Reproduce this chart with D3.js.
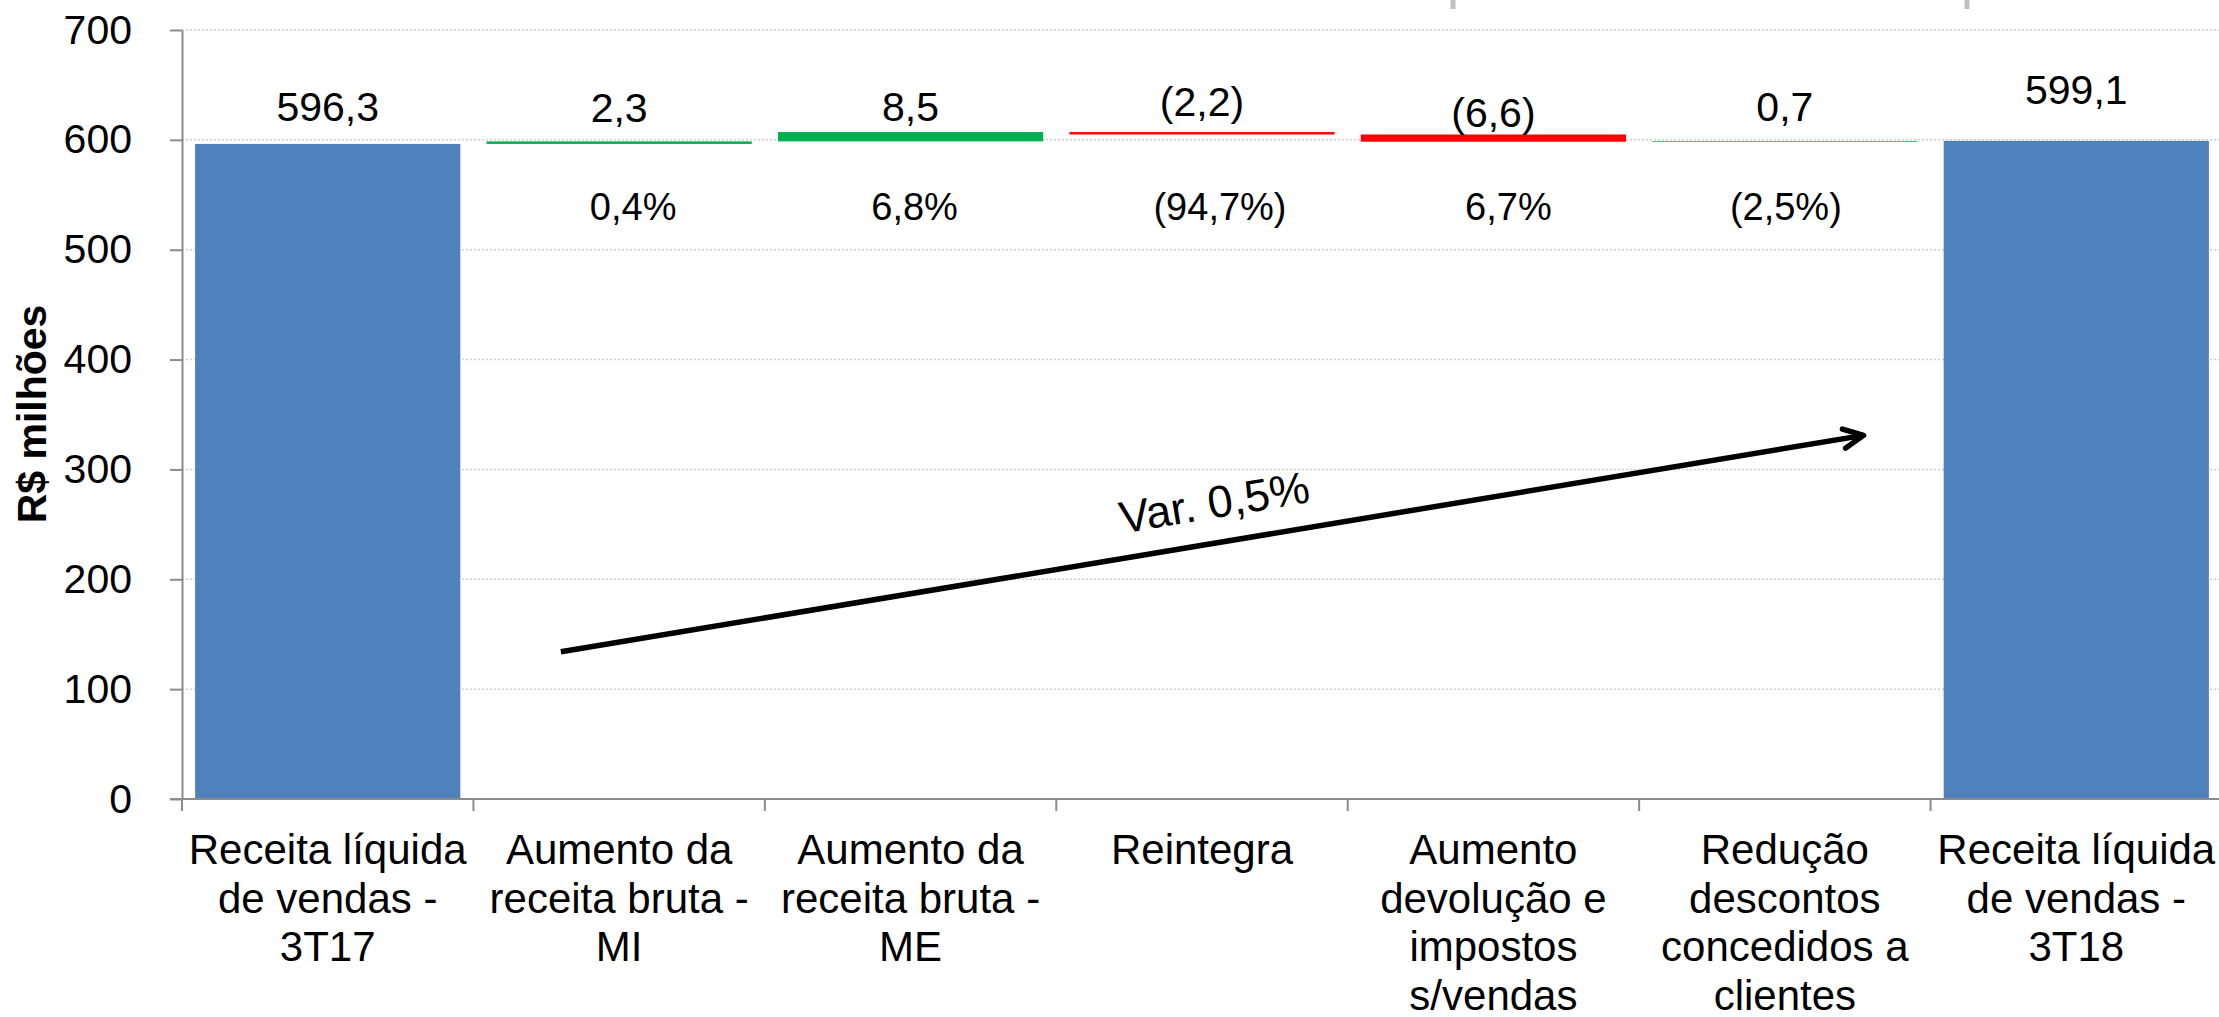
<!DOCTYPE html>
<html lang="pt">
<head>
	<meta charset="utf-8">
	<title>Receita líquida de vendas - 3T17 x 3T18</title>
	<script src="https://d3js.org/d3.v7.min.js" charset="utf-8"></script>
	<style>
		body { margin: 0; background: #ffffff; }
		svg text { font-family: "Liberation Sans", Arial, sans-serif; fill: #000000; }
	</style>
</head>
<body>
<div id="chart"></div>
<script type="text/javascript">

	// ---- data ----
	// category names, line breaks as in the original axis
	var categories = [
		"Receita líquida\nde vendas -\n3T17",
		"Aumento da\nreceita bruta -\nMI",
		"Aumento da\nreceita bruta -\nME",
		"Reintegra",
		"Aumento\ndevolução e\nimpostos\ns/vendas",
		"Redução\ndescontos\nconcedidos a\nclientes",
		"Receita líquida\nde vendas -\n3T18"
	];
	var startTotal = 596.3;
	var endTotal = 599.1;
	var deltas = [2.3, 8.5, -2.2, -6.6, 0.7];
	var deltaPercents = ["0,4%", "6,8%", "(94,7%)", "6,7%", "(2,5%)"];
	var yTicks = [0, 100, 200, 300, 400, 500, 600, 700];
	var yTitle = "R$ milhões";
	var variationLabel = "Var. 0,5%";
	// arrow annotation: [band position, value]
	var arrowFrom = [1.3, 134];
	var arrowTo = [5.77, 331];

	// ---- layout ----
	var width = 2219, height = 1017;
	var fontSize = 41;
	var colTotal = "#4F81BD", colUp = "#00B050", colDown = "#FF0000";
	var axisColor = "#8c8c8c";
	// small nudges of labels
	var labelNudge = [-37, -34, -25, -30, -22, -34, -51];
	var pctNudgeX = [0, 14, 4, 18, 15, 1, 0];
	var pctRowY = 207;

	var svg = d3.select("#chart")
		.append("svg")
		.attr("width", width)
		.attr("height", height);

	var x = d3.scaleBand()
		.domain(categories)
		.range([182, 2222])
		.paddingInner(0.09)
		.paddingOuter(0.045);

	var y = d3.scaleLinear()
		.domain([0, 700])
		.range([799, 30]);

	// build the waterfall rows
	var rows = [];
	rows.push({name: categories[0], lo: 0, hi: startTotal, color: colTotal, label: fmt(startTotal), pct: ""});
	var run = startTotal;
	deltas.forEach(function(d, i){
		var from = run, to = run + d;
		rows.push({
			name: categories[i + 1],
			lo: Math.min(from, to),
			hi: Math.max(from, to),
			color: d >= 0 ? colUp : colDown,
			label: d < 0 ? "(" + fmt(-d) + ")" : fmt(d),
			pct: deltaPercents[i]
		});
		run = to;
	});
	rows.push({name: categories[6], lo: 0, hi: endTotal, color: colTotal, label: fmt(endTotal), pct: ""});

	function fmt(v){ return v.toFixed(1).replace(".", ","); }

	// gridlines
	svg.append("g")
		.selectAll("line")
		.data(yTicks.filter(function(d){ return d > 0; }))
		.enter()
			.append("line")
			.attr("x1", x.range()[0])
			.attr("x2", width)
			.attr("y1", function(d){ return y(d); })
			.attr("y2", function(d){ return y(d); })
			.attr("stroke", "#cfcfcf")
			.attr("stroke-width", 1.5)
			.attr("stroke-dasharray", "2,2");

	// bars
	svg.append("g")
		.selectAll("rect")
		.data(rows)
		.enter()
			.append("rect")
			.attr("x", function(d){ return x(d.name); })
			.attr("width", x.bandwidth())
			.attr("y", function(d){ return y(d.hi); })
			.attr("height", function(d){ return y(d.lo) - y(d.hi); })
			.attr("fill", function(d){ return d.color; });

	// value labels
	svg.append("g")
		.selectAll("text")
		.data(rows)
		.enter()
			.append("text")
			.attr("x", function(d){ return x(d.name) + x.bandwidth() / 2; })
			.attr("y", function(d, i){ return y(d.hi) + labelNudge[i]; })
			.attr("dy", "0.35em")
			.attr("text-anchor", "middle")
			.style("font-size", fontSize + "px")
			.text(function(d){ return d.label; });

	// percentage labels
	svg.append("g")
		.selectAll("text")
		.data(rows)
		.enter()
			.append("text")
			.attr("x", function(d, i){ return x(d.name) + x.bandwidth() / 2 + pctNudgeX[i]; })
			.attr("y", pctRowY)
			.attr("dy", "0.35em")
			.attr("text-anchor", "middle")
			.style("font-size", (fontSize - 3) + "px")
			.text(function(d){ return d.pct; });

	// y axis
	var yAxis = d3.axisLeft(y)
		.tickValues(yTicks)
		.tickSize(12)
		.tickSizeOuter(0)
		.tickPadding(38);

	var gy = svg.append("g")
		.attr("transform", "translate(" + x.range()[0] + ",0)")
		.call(yAxis);
	gy.select(".domain").attr("stroke", axisColor).attr("stroke-width", 2);
	gy.selectAll(".tick line").attr("stroke", axisColor).attr("stroke-width", 2);
	gy.selectAll(".tick text")
		.style("font-size", fontSize + "px")
		.style("font-family", "'Liberation Sans', Arial, sans-serif")
		.attr("fill", "#000");

	// x axis: baseline and tick marks at band boundaries
	var gx = svg.append("g");
	gx.append("line")
		.attr("x1", x.range()[0] - 12)
		.attr("x2", width)
		.attr("y1", y(0))
		.attr("y2", y(0))
		.attr("stroke", axisColor)
		.attr("stroke-width", 2);
	gx.selectAll("line.tk")
		.data(d3.range(categories.length + 1))
		.enter()
			.append("line")
			.attr("class", "tk")
			.attr("x1", function(i){ return x.range()[0] + i * x.step(); })
			.attr("x2", function(i){ return x.range()[0] + i * x.step(); })
			.attr("y1", y(0))
			.attr("y2", y(0) + 12)
			.attr("stroke", axisColor)
			.attr("stroke-width", 2);

	// category labels, wrapped
	var cat = gx.selectAll("text")
		.data(categories)
		.enter()
			.append("text")
			.attr("text-anchor", "middle")
			.style("font-size", (fontSize + 1) + "px");
	cat.selectAll("tspan")
		.data(function(d){ return d.split("\n"); })
		.enter()
			.append("tspan")
			.attr("x", function(){ var c = d3.select(this.parentNode).datum(); return x(c) + x.bandwidth() / 2; })
			.attr("y", function(d, i){ return 864 + i * 48.5; })
			.text(function(d){ return d; });

	// y axis title
	svg.append("text")
		.attr("transform", "translate(46," + ((y(0) + y(700)) / 2 - 0.5) + ") rotate(-90)")
		.attr("text-anchor", "middle")
		.style("font-size", fontSize + "px")
		.style("font-weight", "bold")
		.text(yTitle);

	// variation arrow
	var posX = function(p){ return x.range()[0] + p * x.step(); };
	var ax1 = posX(arrowFrom[0]), ay1 = y(arrowFrom[1]);
	var ax2 = posX(arrowTo[0]), ay2 = y(arrowTo[1]);
	var ang = Math.atan2(ay2 - ay1, ax2 - ax1);
	svg.append("line")
		.attr("x1", ax1).attr("y1", ay1)
		.attr("x2", ax2).attr("y2", ay2)
		.attr("stroke", "#000")
		.attr("stroke-width", 5.5);
	var head = 22, spread = 26 * Math.PI / 180;
	svg.append("path")
		.attr("d", "M" + (ax2 - head * Math.cos(ang - spread)) + "," + (ay2 - head * Math.sin(ang - spread)) +
			"L" + ax2 + "," + ay2 +
			"L" + (ax2 - head * Math.cos(ang + spread)) + "," + (ay2 - head * Math.sin(ang + spread)))
		.attr("fill", "none")
		.attr("stroke", "#000")
		.attr("stroke-width", 5.5)
		.attr("stroke-linecap", "round")
		.attr("stroke-linejoin", "round");

	svg.append("text")
		.attr("transform", "translate(" + ((ax1 + ax2) / 2 + 9) + "," + ((ay1 + ay2) / 2) + ") rotate(" + (ang * 180 / Math.PI) + ") translate(0,-42)")
		.attr("text-anchor", "middle")
		.attr("dy", "0.35em")
		.style("font-size", (fontSize + 4) + "px")
		.text(variationLabel);

	// stray grey marks at the top edge of the original picture
	svg.append("g")
		.selectAll("rect")
		.data([1453, 1967])
		.enter()
			.append("rect")
			.attr("x", function(d){ return d - 2.5; })
			.attr("y", 0)
			.attr("width", 5)
			.attr("height", 9)
			.attr("fill", "#c0c0c0");

</script>
</body>
</html>
